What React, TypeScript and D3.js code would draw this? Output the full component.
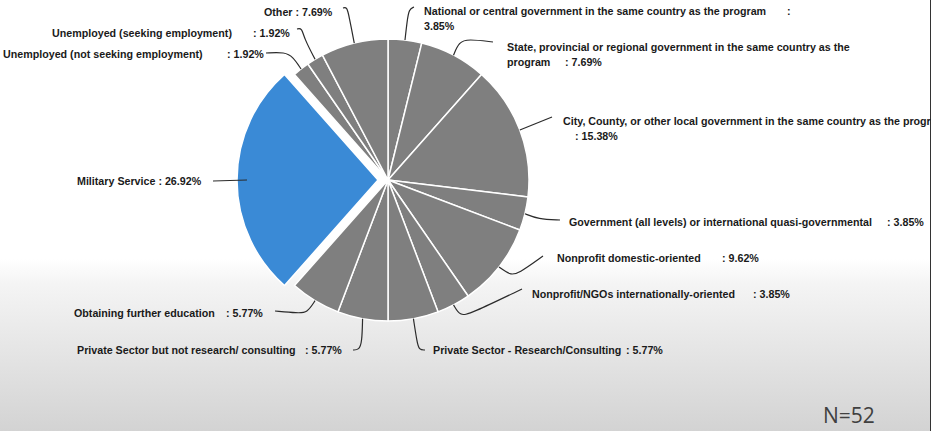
import * as d3 from 'd3';

// survey result: where graduates went (N = 52)
const categories = [
  'National or central government in the same country as the program',
  'State, provincial or regional government in the same country as the\nprogram',
  'City, County, or other local government in the same country as the program',
  'Government (all levels) or international quasi-governmental',
  'Nonprofit domestic-oriented',
  'Nonprofit/NGOs internationally-oriented',
  'Private Sector - Research/Consulting',
  'Private Sector but not research/ consulting',
  'Obtaining further education',
  'Military Service',
  'Unemployed (not seeking employment)',
  'Unemployed (seeking employment)',
  'Other',
];
const counts = [2, 4, 8, 2, 5, 2, 3, 3, 3, 14, 1, 1, 4];
const total = 52;
const highlighted = 'Military Service';

// label placement + leader line bends (same order as categories)
type LabelPos = {
  x: number;
  y: number;
  value?: [number, number];
  colon?: [number, number];
  bends: [number, number][];
};
const labelLayout: LabelPos[] = [
  { x: 424, y: 11, colon: [787, 11], value: [424, 26], bends: [[407, 22], [409, 9], [414, 7]] },
  { x: 507, y: 47, value: [565, 62], bends: [[459, 42], [468, 39], [493, 42]] },
  { x: 563, y: 121, value: [575, 136], bends: [[552, 117]] },
  { x: 569, y: 222, value: [887, 222], bends: [[538, 219], [560, 220]] },
  { x: 557, y: 258, value: [722, 258], bends: [[510, 275], [518, 274], [543, 256]] },
  { x: 532, y: 294, value: [753, 294], bends: [[460, 316], [470, 314], [522, 289]] },
  { x: 433, y: 350, value: [626, 350], bends: [[417, 342], [419, 350], [425, 350]] },
  { x: 77, y: 350, value: [305, 350], bends: [[362, 342], [359, 350], [353, 350]] },
  { x: 74, y: 313, value: [226, 313], bends: [[307, 313], [298, 313], [275, 311]] },
  { x: 77, y: 181, bends: [[213, 181]] },
  { x: 3, y: 54, value: [227, 54], bends: [[293, 57], [285, 52], [266, 53]] },
  { x: 52, y: 33, value: [253, 33], bends: [[304, 38], [302, 28], [297, 29]] },
  { x: 264, y: 12, bends: [[349, 16], [347, 7], [343, 8]] },
];

const W = 931;
const H = 431;
const cx = 388;
const cy = 180;
const radius = 141;
const explode = 10;

const fmtPct = (v: number) => `${((v / total) * 100).toFixed(2)}%`;

export default function App() {
  const pie = d3.pie<number>().sort(null).value((d) => d);
  const arcs = pie(counts);
  const arc = d3.arc<d3.PieArcDatum<number>>().innerRadius(0).outerRadius(radius);
  const edgeArc = d3.arc<d3.PieArcDatum<number>>().innerRadius(radius).outerRadius(radius);
  const leader = d3.line().curve(d3.curveBasis);

  const font = "'Liberation Sans', Arial, sans-serif";

  return (
    <svg
      width={W}
      height={H}
      viewBox={`0 0 ${W} ${H}`}
      style={{ position: 'fixed', left: 0, top: 0 }}
    >
      <defs>
        <linearGradient id="bg" gradientUnits="userSpaceOnUse" x1={0} y1={0} x2={0} y2={H}>
          <stop offset="0.6" stopColor="#ffffff" />
          <stop offset="0.66" stopColor="#f4f4f4" />
          <stop offset="1" stopColor="#d3d3d3" />
        </linearGradient>
      </defs>
      <rect width={W} height={H} fill="url(#bg)" />
      <line x1={930.5} x2={930.5} y1={0} y2={H} stroke="#333" strokeWidth={1} />

      <g transform={`translate(${cx},${cy})`}>
        {arcs.map((a, i) => {
          const isHi = categories[i] === highlighted;
          const mid = (a.startAngle + a.endAngle) / 2;
          const dx = isHi ? Math.sin(mid) * explode : 0;
          const dy = isHi ? -Math.cos(mid) * explode : 0;
          return (
            <path
              key={i}
              d={arc(a) ?? ''}
              transform={`translate(${dx},${dy})`}
              fill={isHi ? '#3a8ad6' : '#7f7f7f'}
              stroke="#ffffff"
              strokeWidth={1.5}
              strokeLinejoin="round"
            />
          );
        })}
      </g>

      <g fill="none" stroke="#2b2b2b" strokeWidth={1.2}>
        {arcs.map((a, i) => {
          const [ex, ey] = edgeArc.centroid(a);
          const pts: [number, number][] = [[cx + ex, cy + ey], ...labelLayout[i].bends];
          return <path key={i} d={leader(pts) ?? ''} />;
        })}
      </g>

      <g fontFamily={font} fontWeight="bold" fontSize={10.7} fill="#1a1a1a">
        {categories.map((name, i) => {
          const L = labelLayout[i];
          const lines = name.split('\n');
          const pct = fmtPct(counts[i]);
          const inline = !L.value;
          return (
            <g key={i}>
              {lines.map((ln, j) => (
                <text key={j} x={L.x} y={L.y + j * 15} dominantBaseline="central">
                  {inline && j === lines.length - 1 ? `${ln} : ${pct}` : ln}
                </text>
              ))}
              {L.colon && (
                <text x={L.colon[0]} y={L.colon[1]} dominantBaseline="central">:</text>
              )}
              {L.value && (
                <text x={L.value[0]} y={L.value[1]} dominantBaseline="central">
                  {L.colon ? pct : `: ${pct}`}
                </text>
              )}
            </g>
          );
        })}
      </g>

      <text
        x={823}
        y={423}
        fontFamily="'Open Sans', sans-serif"
        fontSize={21}
        fill="#404040"
      >
        N={total}
      </text>
    </svg>
  );
}
